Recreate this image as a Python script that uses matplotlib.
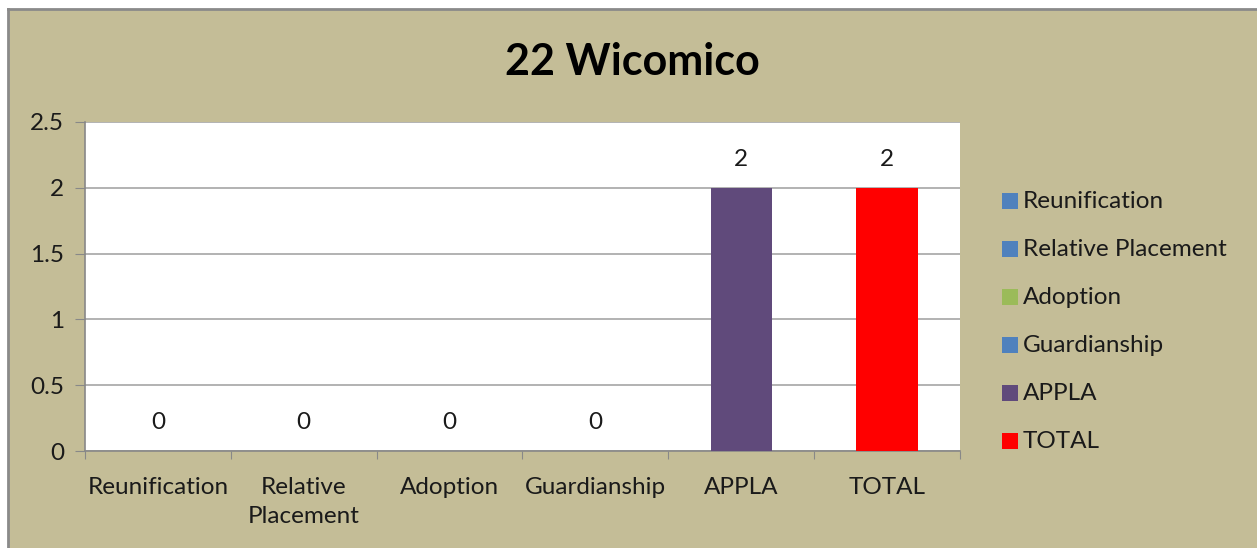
import matplotlib
matplotlib.use("Agg")
import matplotlib.pyplot as plt
from matplotlib.patches import Rectangle
import numpy as np

categories = ["Reunification", "Relative\nPlacement", "Adoption", "Guardianship", "APPLA", "TOTAL"]
legend_labels = ["Reunification", "Relative Placement", "Adoption", "Guardianship", "APPLA", "TOTAL"]
values = [0, 0, 0, 0, 2, 2]
colors = ["#4F81BD", "#4F81BD", "#9BBB59", "#4F81BD", "#604A7B", "#FF0000"]
yticks = [0, 0.5, 1, 1.5, 2, 2.5]
title = "22 Wicomico"

plt.rcParams['font.family'] = ['Lato', 'DejaVu Sans']
FS = 17.5
bg = "#C4BD97"
W, H = 1257, 548
fig = plt.figure(figsize=(W/100, H/100), dpi=100)
fig.patch.set_facecolor("white")
fig.add_artist(Rectangle((9/W, 0), 1 - 9/W, 1 - 10/H, transform=fig.transFigure,
                         facecolor=bg, edgecolor="none", zorder=0))
fig.add_artist(plt.Line2D([8/W, 8/W], [0, 1 - 9/H], transform=fig.transFigure, color="#8a8a8a", lw=2))
fig.add_artist(plt.Line2D([8/W, 1], [1 - 9/H, 1 - 9/H], transform=fig.transFigure, color="#8a8a8a", lw=2))

x0, x1 = 85, 960
y0, y1 = 122, 451
ax = fig.add_axes([x0/W, 1 - y1/H, (x1 - x0)/W, (y1 - y0)/H])
ax.set_facecolor("white")

x = np.arange(len(categories))
ax.bar(x, values, width=0.42, color=colors, zorder=3, edgecolor="none")
for xi, v in zip(x, values):
    ax.annotate(f"{v:g}", (xi, v), xytext=(0, 20.5), textcoords="offset points",
                ha="center", va="center", fontsize=FS, color="#1a1a1a")

ax.set_xlim(-0.5, len(categories) - 0.5)
ax.set_ylim(0, 2.5)
ax.set_yticks(yticks)
ax.set_yticklabels([f"{t:g}" for t in yticks], fontsize=FS, color="#1a1a1a")
ax.yaxis.grid(True, color="#A6A6A6", lw=1.2, zorder=1)
ax.set_xticks(np.arange(-0.5, len(categories), 1.0))
ax.set_xticklabels([])
ax.set_xticks(x, minor=True)
ax.set_xticklabels(categories, minor=True, fontsize=FS, color="#1a1a1a", linespacing=1.5)
ax.tick_params(axis="x", which="minor", length=0, pad=18.5)
ax.tick_params(axis="x", which="major", length=6, color="#888888", direction="out")
ax.tick_params(axis="y", length=7, color="#888888", pad=8)
for s in ["top", "right"]:
    ax.spines[s].set_visible(False)
for s in ["left", "bottom"]:
    ax.spines[s].set_color("#888888")
    ax.spines[s].set_linewidth(1.2)

fig.text(632/W, 1 - 62/H, title, ha="center", va="center",
         fontsize=31, fontweight="bold", color="black")

# legend
for i, (c, lab) in enumerate(zip(colors, legend_labels)):
    yc = 201 + 48 * i
    fig.add_artist(Rectangle((1002/W, 1 - (yc + 8)/H), 16/W, 16/H, transform=fig.transFigure,
                             facecolor=c, edgecolor="none"))
    fig.text(1023/W, 1 - yc/H, lab, ha="left", va="center", fontsize=FS, color="#1a1a1a")

fig.savefig("out.png", dpi=100, facecolor=fig.get_facecolor())
